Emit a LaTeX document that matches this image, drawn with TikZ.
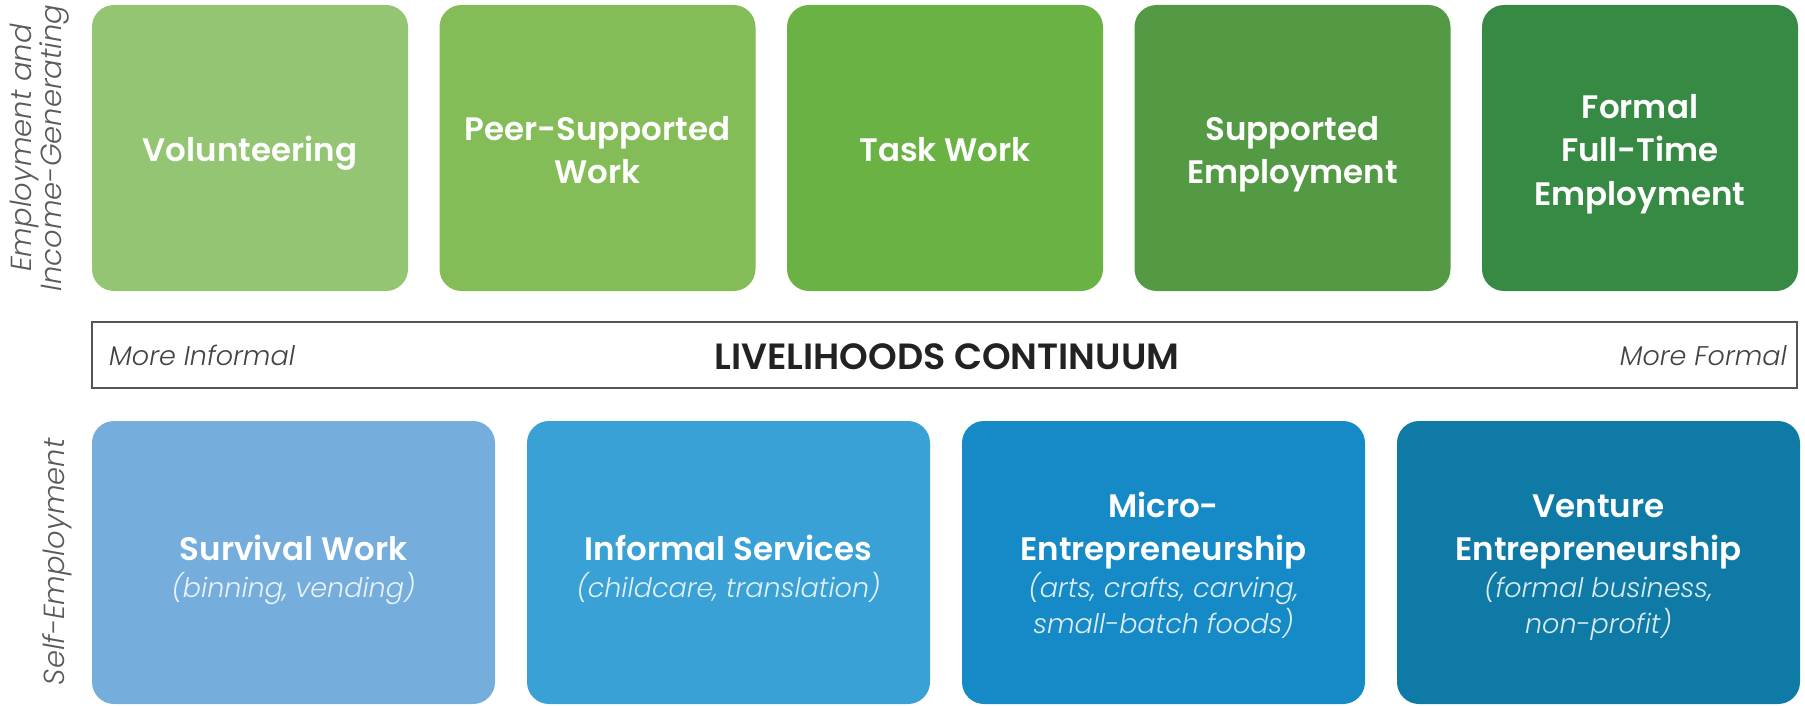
\documentclass[tikz,border=0pt]{standalone}
\usepackage{fontspec}
\setmainfont{Poppins}[BoldFont={* SemiBold},ItalicFont={* Light Italic}]
\definecolor{g1}{HTML}{93C572}
\definecolor{g2}{HTML}{84BD57}
\definecolor{g3}{HTML}{6BB244}
\definecolor{g4}{HTML}{549A44}
\definecolor{g5}{HTML}{378A43}
\definecolor{b1}{HTML}{75AEDC}
\definecolor{b2}{HTML}{39A1D5}
\definecolor{b3}{HTML}{168AC7}
\definecolor{b4}{HTML}{107AA6}
\definecolor{sidegray}{HTML}{5A5A5A}
\definecolor{framegray}{HTML}{555555}
\definecolor{darktext}{HTML}{222222}
\tikzset{
  card/.style={rectangle, rounded corners=22pt, inner sep=0pt, draw=none},
  toprow/.style={card, minimum width=316pt, minimum height=286pt},
  botrow/.style={card, minimum width=403pt, minimum height=283pt},
  ttl/.style={anchor=base, inner sep=0pt, text=white, font=\bfseries\fontsize{32.5}{43}\selectfont},
  subt/.style={anchor=base, inner sep=0pt, text=white, text opacity=0.85, font=\itshape\fontsize{27}{35}\selectfont},
  side/.style={rotate=90, align=center, inner sep=0pt, text=sidegray, font=\itshape\fontsize{29}{30}\selectfont},
  endlabel/.style={inner sep=0pt, text=darktext!85, font=\itshape\fontsize{27}{30}\selectfont}
}
\begin{document}
\begin{tikzpicture}[x=1pt,y=-1pt]
\useasboundingbox (0,0) rectangle (1805,706);
% top row
\node[toprow, fill=g1] (vol) at (250,148) {};
\node[toprow, fill=g2] (peer) at (597.5,148) {};
\node[toprow, fill=g3] (task) at (945,148) {};
\node[toprow, fill=g4] (supp) at (1292.5,148) {};
\node[toprow, fill=g5] (form) at (1640,148) {};
\node[ttl] (volA) at (250,162) {Volunteering};
\node[ttl] (peerA) at (597.5,140.5) {Peer-Supported};
\node[ttl] (peerB) at (597.5,183.5) {Work};
\node[ttl] (taskA) at (945,162) {Task Work};
\node[ttl] (suppA) at (1292.5,140.5) {Supported};
\node[ttl] (suppB) at (1292.5,183.5) {Employment};
\node[ttl] (formA) at (1640,119) {Formal};
\node[ttl] (formB) at (1640,162) {Full-Time};
\node[ttl] (formC) at (1640,205) {Employment};
% continuum bar
\node[rectangle, draw=framegray, line width=2pt, fill=white, minimum width=1705pt, minimum height=66pt, inner sep=0pt] (bar) at (944.5,355) {};
\node[inner sep=0pt, text=darktext, font=\bfseries\fontsize{36.5}{40}\selectfont] (barT) at (947,357) {LIVELIHOODS CONTINUUM};
\node[endlabel, anchor=base west] (inf) at (109,365) {More Informal};
\node[endlabel, anchor=base east] (fml) at (1787,365) {More Formal};
% bottom row
\node[botrow, fill=b1] (surv) at (293.5,562.5) {};
\node[botrow, fill=b2] (info) at (728.5,562.5) {};
\node[botrow, fill=b3] (micro) at (1163.5,562.5) {};
\node[botrow, fill=b4] (vent) at (1598.5,562.5) {};
\node[ttl] (survA) at (293.5,560) {Survival Work};
\node[subt] (survS) at (293.5,597) {(binning, vending)};
\node[ttl] (infoA) at (728.5,560) {Informal Services};
\node[subt] (infoS) at (728.5,597) {(childcare, translation)};
\node[ttl] (microA) at (1163.5,517) {Micro-};
\node[ttl] (microB) at (1163.5,560) {Entrepreneurship};
\node[subt] (microS) at (1163.5,597) {(arts, crafts, carving,};
\node[subt] (microT) at (1163.5,633) {small-batch foods)};
\node[ttl] (ventA) at (1598.5,517) {Venture};
\node[ttl] (ventB) at (1598.5,560) {Entrepreneurship};
\node[subt] (ventS) at (1598.5,597) {(formal business,};
\node[subt] (ventT) at (1598.5,633) {non-profit)};
% side labels
\node[side] (topside) at (40,148) {Employment and\\Income-Generating};
\node[side] (botside) at (57,562) {Self-Employment};
\end{tikzpicture}
\end{document}
